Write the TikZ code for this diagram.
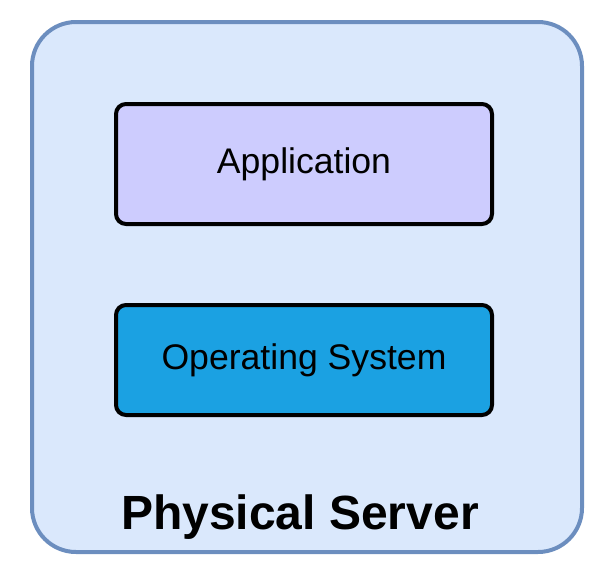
\documentclass[tikz,border=0pt]{standalone}
\usepackage{fontspec}
\setmainfont{Liberation Sans}
\usepackage{xcolor}
\usetikzlibrary{positioning}

\definecolor{serverfill}{HTML}{DAE8FC}
\definecolor{serverline}{HTML}{6C8EBF}
\definecolor{appfill}{HTML}{CDCCFE}
\definecolor{osfill}{HTML}{1BA1E2}

\begin{document}
\begin{tikzpicture}[
      x=0.5pt, y=-0.5pt,
      node distance=38.5pt,
      layer/.style={
        draw=black,
        line width=2pt,
        rounded corners=5pt,
        minimum width=188pt,
        align=center,
        font=\fontsize{17.8}{20}\selectfont
      },
      server/.style={
        draw=serverline,
        fill=serverfill,
        line width=2pt,
        rounded corners=22pt,
        minimum width=275pt,
        minimum height=265pt
      }
    ]

    \useasboundingbox (0,0) rectangle (600,574);

    \node[server] (server) at (307,287) {};

    \node[layer, fill=appfill, minimum height=60pt] (app) at (304,164) {Application};

    \node[layer, fill=osfill, minimum height=55pt, below=of app] (os) {Operating System};

    \node[font=\fontsize{24}{26}\selectfont\bfseries] (label) at (300,517) {Physical Server};

    \end{tikzpicture}
\end{document}
